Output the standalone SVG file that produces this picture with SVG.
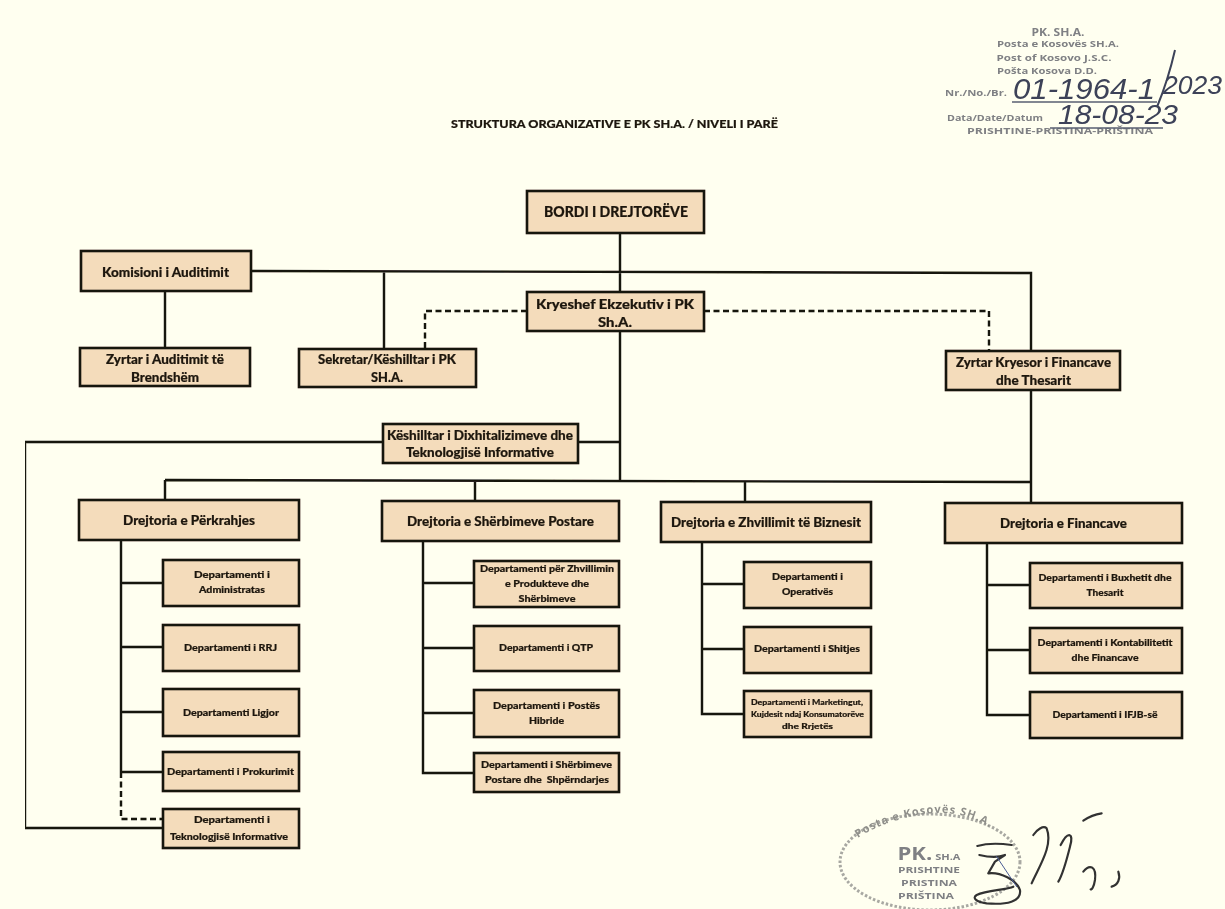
<svg xmlns="http://www.w3.org/2000/svg" width="1225" height="909" viewBox="0 0 1225 909">
<style>
.b{fill:#f4dcbb;stroke:#17130d;stroke-width:2.6}
.t{font-family:Lato,"Liberation Sans",sans-serif;font-weight:900;fill:#1f180f;stroke:#1f180f;stroke-width:.2;text-anchor:middle}
.l{font-size:13.5px}.m{font-size:12.5px}.s{font-size:9px}.xs{font-size:7.6px}
.c{fill:none;stroke:#17130d;stroke-width:2.4}
.d{fill:none;stroke:#17130d;stroke-width:2.4;stroke-dasharray:6 3.5}
.st{font-family:"Open Sans","Liberation Sans",sans-serif;fill:#7f8084;font-weight:700;text-anchor:middle}
.hw{font-family:"Liberation Sans",sans-serif;font-style:italic;fill:#3c4258}
.sig{fill:none;stroke:#333;stroke-width:6.500;stroke-linecap:round;stroke-linejoin:round}
</style>
<rect width="1225" height="909" fill="#fffff0"/>
<defs><filter id="scan" x="0" y="0" width="100%" height="100%"><feGaussianBlur stdDeviation=".4"/></filter></defs>
<g filter="url(#scan)">
<text class="t" x="614.500" y="128" font-size="12" textLength="327" lengthAdjust="spacingAndGlyphs">STRUKTURA ORGANIZATIVE E PK SH.A. / NIVELI I PARË</text>
<g id="connectors">
<path class="c" d="M620 233V292M620 331V481M251 271L1031 273V351M1031 390V503M165 291V348M384 272V349"/>
<path class="d" d="M527 311H425V349M704 311H989V351"/>
<path class="c" d="M578 442H620M383 442H25V828H163"/>
<path class="c" d="M165 480L1031 482M165 480V500M475 481V501M745 481V502"/>
<path class="c" d="M121 540V772M121 583H163M121 647H163M121 712H163M121 772H163"/>
<path class="d" d="M121 772V819H163"/>
<path class="c" d="M423 541V773H474M423 583H474M423 648H474M423 713H474"/>
<path class="c" d="M702 542V714H744M702 584H744M702 649H744"/>
<path class="c" d="M987 543V715H1030M987 585H1030M987 650H1030"/>
</g>
<g id="n-bordi"><rect class="b" x="527" y="191" width="177" height="42"/><text class="t" x="616" y="217" font-size="14.500" textLength="144" lengthAdjust="spacingAndGlyphs">BORDI I DREJTORËVE</text></g>
<g id="n-komisioni"><rect class="b" x="81" y="251" width="170" height="40"/><text class="t l" x="165.500" y="277" textLength="127" lengthAdjust="spacingAndGlyphs">Komisioni i Auditimit</text></g>
<g id="n-kryeshef"><rect class="b" x="527" y="292" width="177" height="39"/><text class="t l" x="615" y="309" textLength="158" lengthAdjust="spacingAndGlyphs">Kryeshef Ekzekutiv i PK</text><text class="t l" x="615" y="327" textLength="34" lengthAdjust="spacingAndGlyphs">Sh.A.</text></g>
<g id="n-zyrtar-auditimit"><rect class="b" x="80" y="348" width="170" height="38"/><text class="t m" x="165" y="364" textLength="118" lengthAdjust="spacingAndGlyphs">Zyrtar i Auditimit të</text><text class="t m" x="165" y="382" textLength="68" lengthAdjust="spacingAndGlyphs">Brendshëm</text></g>
<g id="n-sekretar"><rect class="b" x="299" y="349" width="177" height="38"/><text class="t m" x="387" y="364" textLength="138" lengthAdjust="spacingAndGlyphs">Sekretar/Këshilltar i PK</text><text class="t m" x="387" y="382" textLength="32" lengthAdjust="spacingAndGlyphs">SH.A.</text></g>
<g id="n-zyrtar-kryesor"><rect class="b" x="946" y="351" width="174" height="39"/><text class="t m" x="1033.500" y="367" textLength="155" lengthAdjust="spacingAndGlyphs">Zyrtar Kryesor i Financave</text><text class="t m" x="1033.500" y="385" textLength="75" lengthAdjust="spacingAndGlyphs">dhe Thesarit</text></g>
<g id="n-keshilltar"><rect class="b" x="383" y="424" width="195" height="39"/><text class="t m" x="480" y="440" textLength="186" lengthAdjust="spacingAndGlyphs">Këshilltar i Dixhitalizimeve dhe</text><text class="t m" x="480" y="457" textLength="148" lengthAdjust="spacingAndGlyphs">Teknologjisë Informative</text></g>

<g id="n-perkrahjes"><rect class="b" x="79" y="500" width="220" height="40"/><text class="t m" x="189" y="525" textLength="132" lengthAdjust="spacingAndGlyphs">Drejtoria e Përkrahjes</text></g>
<g id="n-sherbimeve"><rect class="b" x="382" y="501" width="237" height="40"/><text class="t m" x="500.500" y="526" textLength="187" lengthAdjust="spacingAndGlyphs">Drejtoria e Shërbimeve Postare</text></g>
<g id="n-zhvillimit"><rect class="b" x="661" y="502" width="210" height="40"/><text class="t m" x="766" y="527" textLength="190" lengthAdjust="spacingAndGlyphs">Drejtoria e Zhvillimit të Biznesit</text></g>
<g id="n-financave"><rect class="b" x="945" y="503" width="237" height="40"/><text class="t m" x="1063.500" y="528" textLength="127" lengthAdjust="spacingAndGlyphs">Drejtoria e Financave</text></g>

<g id="n-administrates"><rect class="b" x="163" y="560" width="136" height="46"/><text class="t s" x="232" y="578" textLength="76" lengthAdjust="spacingAndGlyphs">Departamenti i</text><text class="t s" x="232" y="593" textLength="66" lengthAdjust="spacingAndGlyphs">Administratas</text></g>
<g id="n-rrj"><rect class="b" x="163" y="625" width="136" height="46"/><text class="t s" x="230.500" y="651" textLength="93" lengthAdjust="spacingAndGlyphs">Departamenti i RRJ</text></g>
<g id="n-ligjor"><rect class="b" x="163" y="689" width="136" height="47"/><text class="t s" x="231" y="716" textLength="96" lengthAdjust="spacingAndGlyphs">Departamenti Ligjor</text></g>
<g id="n-prokurimit"><rect class="b" x="163" y="752" width="136" height="39"/><text class="t s" x="230.500" y="775" textLength="127" lengthAdjust="spacingAndGlyphs">Departamenti i Prokurimit</text></g>
<g id="n-teknologjise"><rect class="b" x="163" y="809" width="136" height="39"/><text class="t s" x="232" y="823" textLength="76" lengthAdjust="spacingAndGlyphs">Departamenti i</text><text class="t s" x="229" y="840" textLength="118" lengthAdjust="spacingAndGlyphs">Teknologjisë Informative</text></g>

<g id="n-produkteve"><rect class="b" x="474" y="561" width="145" height="46"/><text class="t s" x="547" y="572" textLength="134" lengthAdjust="spacingAndGlyphs">Departamenti për Zhvillimin</text><text class="t s" x="547" y="587" textLength="84" lengthAdjust="spacingAndGlyphs">e Produkteve dhe</text><text class="t s" x="547" y="602" textLength="57" lengthAdjust="spacingAndGlyphs">Shërbimeve</text></g>
<g id="n-qtp"><rect class="b" x="474" y="626" width="145" height="45"/><text class="t s" x="546" y="651" textLength="94" lengthAdjust="spacingAndGlyphs">Departamenti i QTP</text></g>
<g id="n-hibride"><rect class="b" x="474" y="690" width="145" height="47"/><text class="t s" x="546.500" y="709" textLength="107" lengthAdjust="spacingAndGlyphs">Departamenti i Postës</text><text class="t s" x="546.500" y="724" textLength="35" lengthAdjust="spacingAndGlyphs">Hibride</text></g>
<g id="n-shperndarjes"><rect class="b" x="474" y="753" width="145" height="39"/><text class="t s" x="546.500" y="768" textLength="131" lengthAdjust="spacingAndGlyphs">Departamenti i Shërbimeve</text><text class="t s" x="547" y="783" textLength="124" lengthAdjust="spacingAndGlyphs" xml:space="preserve">Postare dhe  Shpërndarjes</text></g>

<g id="n-operatives"><rect class="b" x="744" y="562" width="127" height="46"/><text class="t s" x="807.500" y="580" textLength="71" lengthAdjust="spacingAndGlyphs">Departamenti i</text><text class="t s" x="807.500" y="595" textLength="51" lengthAdjust="spacingAndGlyphs">Operativës</text></g>
<g id="n-shitjes"><rect class="b" x="744" y="627" width="127" height="46"/><text class="t s" x="807" y="652" textLength="106" lengthAdjust="spacingAndGlyphs">Departamenti i Shitjes</text></g>
<g id="n-marketingut"><rect class="b" x="744" y="691" width="127" height="46"/><text class="t xs" x="807" y="705" textLength="112" lengthAdjust="spacingAndGlyphs">Departamenti i Marketingut,</text><text class="t xs" x="807.500" y="717" textLength="113" lengthAdjust="spacingAndGlyphs">Kujdesit ndaj Konsumatorëve</text><text class="t xs" x="807.500" y="728.500" textLength="51" lengthAdjust="spacingAndGlyphs">dhe Rrjetës</text></g>

<g id="n-buxhetit"><rect class="b" x="1030" y="563" width="152" height="45"/><text class="t s" x="1105" y="581" textLength="133" lengthAdjust="spacingAndGlyphs">Departamenti i Buxhetit dhe</text><text class="t s" x="1105" y="596" textLength="37" lengthAdjust="spacingAndGlyphs">Thesarit</text></g>
<g id="n-kontabilitetit"><rect class="b" x="1030" y="628" width="152" height="45"/><text class="t s" x="1105" y="646" textLength="135" lengthAdjust="spacingAndGlyphs">Departamenti i Kontabilitetit</text><text class="t s" x="1105" y="661" textLength="67" lengthAdjust="spacingAndGlyphs">dhe Financave</text></g>
<g id="n-ifrs"><rect class="b" x="1030" y="692" width="152" height="46"/><text class="t s" x="1105" y="718" textLength="105" lengthAdjust="spacingAndGlyphs">Departamenti i IFJB-së</text></g>

<g id="stamp-top">
<text class="st" x="1058" y="36" font-size="11" textLength="53" lengthAdjust="spacingAndGlyphs">PK. SH.A.</text>
<text class="st" x="1058" y="47" font-size="9.500" textLength="122" lengthAdjust="spacingAndGlyphs">Posta e Kosovës SH.A.</text>
<text class="st" x="1054" y="61" font-size="9.500" textLength="115" lengthAdjust="spacingAndGlyphs">Post of Kosovo J.S.C.</text>
<text class="st" x="1047" y="74" font-size="9.500" textLength="100" lengthAdjust="spacingAndGlyphs">Pošta Kosova D.D.</text>
<text class="st" x="976" y="96" font-size="9" textLength="62" lengthAdjust="spacingAndGlyphs">Nr./No./Br.</text>
<text class="st" x="995" y="121" font-size="9.500" textLength="96" lengthAdjust="spacingAndGlyphs">Data/Date/Datum</text>
<text class="st" x="1060" y="134" font-size="8.500" textLength="186" lengthAdjust="spacingAndGlyphs">PRISHTINE-PRISTINA-PRIŠTINA</text>
<path d="M1012 102H1157M1050 128H1163" fill="none" stroke="#5a5f72" stroke-width="1.500"/>
<text class="hw" x="1013" y="99" font-size="30" textLength="142" lengthAdjust="spacingAndGlyphs">01-1964-1</text>
<path d="M1175 50C1170 72 1164 90 1157 107" fill="none" stroke="#3c4258" stroke-width="2"/>
<text class="hw" x="1163" y="94" font-size="26" textLength="59" lengthAdjust="spacingAndGlyphs">2023</text>
<text class="hw" x="1058" y="124" font-size="27" textLength="120" lengthAdjust="spacingAndGlyphs">18-08-23</text>
</g>
<g id="stamp-bottom">
<ellipse cx="930" cy="862" rx="90" ry="48" fill="none" stroke="#a8a8a2" stroke-width="3" stroke-dasharray="2.500 2"/>
<path id="arc" d="M858 838C878 824 915 812 945 813C965 814 985 822 1002 836" fill="none"/>
<text font-family="Open Sans,sans-serif" font-size="11" font-weight="700" fill="#8f8f8a" letter-spacing="1"><textPath href="#arc">Posta e Kosovës SH.A.</textPath></text>
<text class="st" x="929" y="860" font-size="18" textLength="63" lengthAdjust="spacingAndGlyphs">PK.<tspan font-size="9"> SH.A</tspan></text>
<text class="st" x="929" y="873" font-size="8" textLength="62" lengthAdjust="spacingAndGlyphs">PRISHTINE</text>
<text class="st" x="929" y="886" font-size="8" textLength="56" lengthAdjust="spacingAndGlyphs">PRISTINA</text>
<text class="st" x="926" y="899" font-size="8" textLength="56" lengthAdjust="spacingAndGlyphs">PRIŠTINA</text>
<g transform="translate(820 790) scale(.3333)">
<path class="sig" d="M472 168C500 160 540 160 575 165M478 195C500 200 530 205 555 195L525 215L505 250C540 245 590 270 600 300C605 335 560 345 500 340C470 335 455 325 470 315C500 300 560 300 580 290"/>
<path class="sig" style="stroke:#4a5c94;stroke-width:3" d="M530 200L590 290"/>
<path class="sig" d="M635 280C660 225 700 165 680 115C670 105 650 120 640 135M722 165C745 120 762 130 750 170C740 210 730 250 715 275M790 245C810 220 830 230 825 270C822 290 815 300 812 298M895 245C902 265 895 285 875 290M790 92C810 78 830 72 845 70"/>
</g>
</g>
</g>
</svg>
